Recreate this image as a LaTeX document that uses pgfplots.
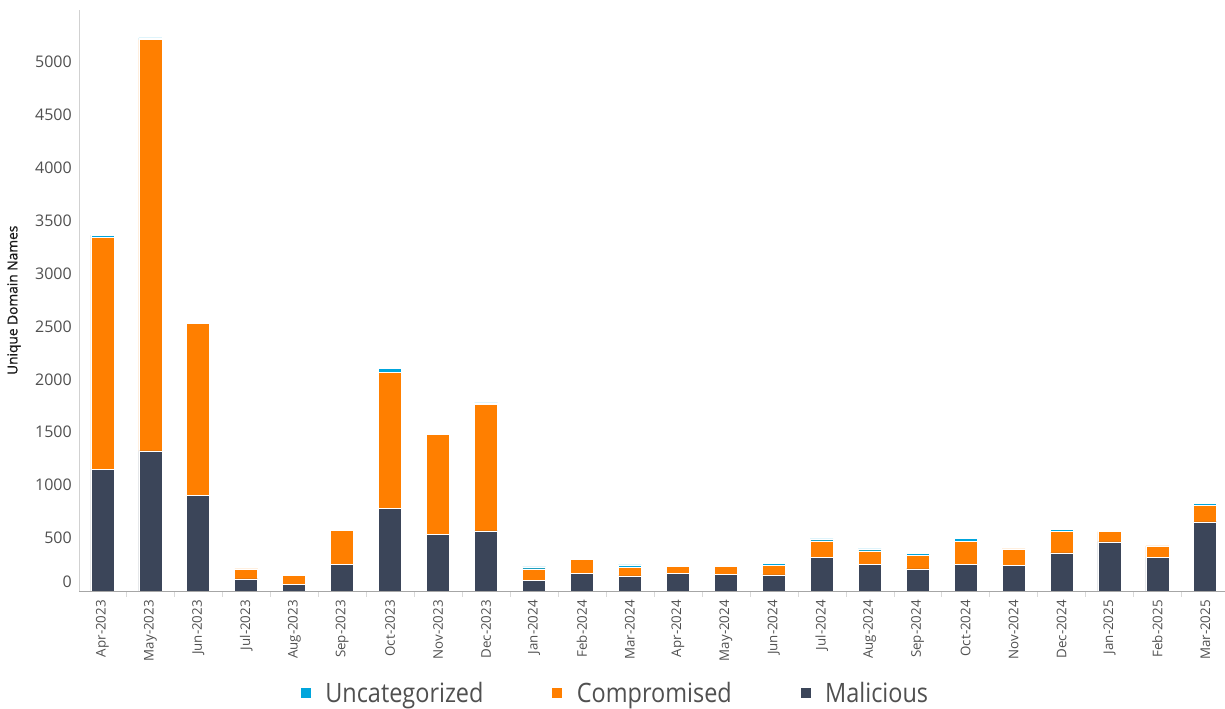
\documentclass[border=0pt]{standalone}
\usepackage{pgfplots}
\pgfplotsset{compat=1.18}
\usepackage{pgfplotstable}
\usepackage{fontspec}
\setmainfont{Open Sans}
\newfontfamily\legfont[FakeStretch=0.88]{Open Sans}
\newfontfamily\ylfont[FakeBold=0.8]{Open Sans}
\definecolor{cunc}{RGB}{0,165,220}
\definecolor{ccomp}{RGB}{255,127,0}
\definecolor{cmal}{RGB}{59,69,89}
\definecolor{labgray}{RGB}{80,80,80}
\pgfplotstableread{
x mal comp unc
0 1151 2194 19
1 1323 3889 15
2 904 1622 0
3 113 95 0
4 63 85 0
5 252 321 0
6 782 1286 31
7 536 941 0
8 567 1194 16
9 101 107 19
10 163 133 0
11 142 82 22
12 163 70 0
13 154 80 0
14 151 92 19
15 318 154 19
16 252 126 19
17 208 126 16
18 252 212 28
19 243 154 0
20 359 206 12
21 463 97 0
22 318 107 0
23 652 154 19
}\datatable
\pgfplotsset{sqlegend/.style={legend image code/.code={\fill[##1,draw=none] (0pt,-3.75pt) rectangle (7.5pt,3.75pt);}}}
\begin{document}
\begin{tikzpicture}
\begin{axis}[
  name=ax,
  scale only axis, width=859.5pt, height=436pt,
  ybar stacked, bar width=17.25pt,
  xmin=-0.49, xmax=23.41, ymin=0, ymax=5495,
  enlargelimits=false,
  axis x line*=bottom, axis y line*=left,
  x axis line style={draw=black!35},
  y axis line style={draw=black!18},
  xtick={0,...,23},
  xticklabels={Apr-2023,May-2023,Jun-2023,Jul-2023,Aug-2023,Sep-2023,Oct-2023,Nov-2023,Dec-2023,Jan-2024,Feb-2024,Mar-2024,Apr-2024,May-2024,Jun-2024,Jul-2024,Aug-2024,Sep-2024,Oct-2024,Nov-2024,Dec-2024,Jan-2025,Feb-2025,Mar-2025},
  minor xtick={0.5,1.5,...,22.5},
  major tick length=0pt, minor tick length=4.5pt, tick align=outside,
  minor x tick style={draw=black!15},
  ytick style={draw=none},
  ytick={500,1000,...,5000},
  extra y ticks={0},
  extra y tick style={yticklabel style={yshift=6.75pt}},
  /pgf/number format/.cd, 1000 sep={}, assume math mode=true, /pgfplots/.cd,
  tick label style={font=\fontsize{12}{14}\selectfont, text=labgray},
  xticklabel style={font=\fontsize{10}{12}\selectfont, rotate=90, anchor=east, inner sep=0pt},
  xticklabel shift=6.75pt,
  yticklabel style={anchor=east, inner sep=0pt},
  yticklabel shift=5.25pt,
  every axis y label/.style={at={(axis description cs:-0.0567,0.5)}, rotate=90, anchor=center, font=\ylfont\fontsize{10.3}{12}\selectfont, text=black!90},
  ylabel={Unique Domain Names},
  reverse legend,
  legend columns=3,
  legend style={at={(axis description cs:0.4672,-0.1754)}, anchor=center, draw=none, inner sep=0pt,
    font=\legfont\fontsize{20}{24}\selectfont, text=labgray,
    nodes={inner sep=0pt},
    /tikz/every even column/.append style={column sep=51.5pt},
    /tikz/every odd column/.append style={column sep=11pt}},
]
\addplot[fill=cmal, draw=white, line width=0.6pt, sqlegend] table[x=x,y=mal]{\datatable};
\addlegendentry{Malicious}
\addplot[fill=ccomp, draw=white, line width=0.6pt, sqlegend] table[x=x,y=comp]{\datatable};
\addlegendentry{Compromised}
\addplot[fill=cunc, draw=white, line width=0.6pt, sqlegend] table[x=x,y=unc]{\datatable};
\addlegendentry{Uncategorized}
\end{axis}
\pgfresetboundingbox
\path[use as bounding box] ([xshift=-59.25pt,yshift=-88.5pt]ax.south west) rectangle ([yshift=7.2pt]ax.north east);
\end{tikzpicture}
\end{document}
